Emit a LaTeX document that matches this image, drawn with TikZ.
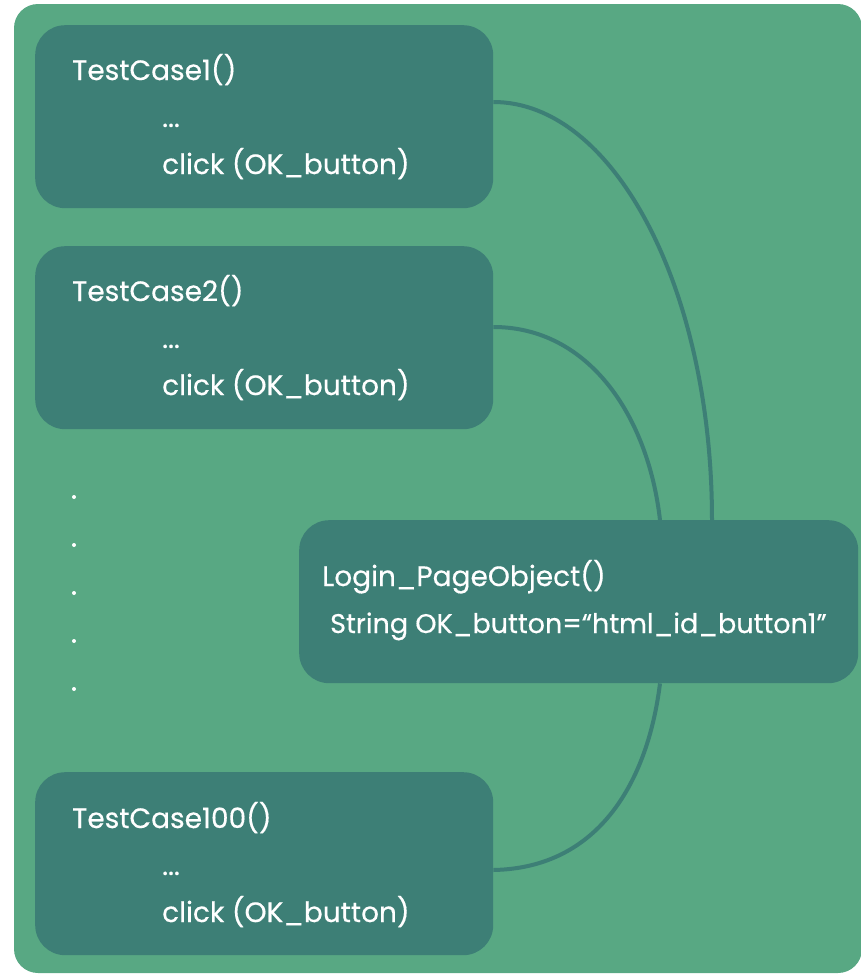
\documentclass[tikz,border=0pt]{standalone}
\usepackage{fontspec}
\setmainfont{Poppins}[FakeBold=0.4]
\definecolor{bggreen}{HTML}{58A883}
\definecolor{boxteal}{HTML}{3D7F76}
\tikzset{
  casebox/.style={fill=boxteal, rounded corners=30pt, minimum width=458pt, minimum height=183pt, anchor=north west, inner sep=0pt},
  pagebox/.style={fill=boxteal, rounded corners=30pt, minimum width=559pt, minimum height=163pt, anchor=north west, inner sep=0pt},
  codetext/.style={text=white, anchor=base west, inner sep=0pt, font=\fontsize{28}{32}\selectfont},
  smalltext/.style={text=white, anchor=base west, inner sep=0pt, font=\fontsize{27}{30}\selectfont},
  link/.style={draw=boxteal, line width=4pt}
}
\begin{document}
\begin{tikzpicture}[x=1pt,y=-1pt]
    \useasboundingbox (0,0) rectangle (860,975);
    % background panel
    \fill[bggreen, rounded corners=24pt] (14,4) rectangle (862,973);

    % test cases
    \node[casebox] (tc1) at (35,25) {};
    \node[codetext] (tc1name) at (72,80) {TestCase1()};
    \node[codetext] (tc1dots) at (162,127) {...};
    \node[codetext] (tc1click) at (162,174) {click (OK\_button)};

    \node[casebox] (tc2) at (35,246) {};
    \node[codetext] (tc2name) at (72,301) {TestCase2()};
    \node[codetext] (tc2dots) at (162,348) {...};
    \node[codetext] (tc2click) at (162,395) {click (OK\_button)};

    \node[casebox] (tc100) at (35,772) {};
    \node[codetext] (tc100name) at (72,828) {TestCase100()};
    \node[codetext] (tc100dots) at (162,875) {...};
    \node[codetext] (tc100click) at (162,922) {click (OK\_button)};

    % vertical dots
    \foreach \yy [count=\i] in {497,545,593,641,689}
        \fill[white] (74,\yy) circle (2pt) coordinate (dot\i);

    % page object
    \node[pagebox] (login) at (299,520) {};
    \node[codetext] (loginname) at (322,586) {Login\_PageObject()};
    \node[smalltext] (loginfield) at (330,633) {String OK\_button=“html\_id\_button1”};

    % links
    \coordinate (out1) at (tc1.north east |- 0,102);
    \coordinate (out2) at (tc2.north east |- 0,327);
    \coordinate (out100) at (tc100.north east |- 0,870);
    \coordinate (in1) at (login.north west -| 712,0);
    \coordinate (in2) at (login.north west -| 660,0);
    \coordinate (in100) at (login.south west -| 660,0);
    \draw[link] (out1) .. controls (614,102) and (712,289) .. (in1);
    \draw[link] (out2) .. controls (588,327) and (648,415) .. (in2);
    \draw[link] (out100) .. controls (600,868) and (648,780) .. (in100);
\end{tikzpicture}
\end{document}
